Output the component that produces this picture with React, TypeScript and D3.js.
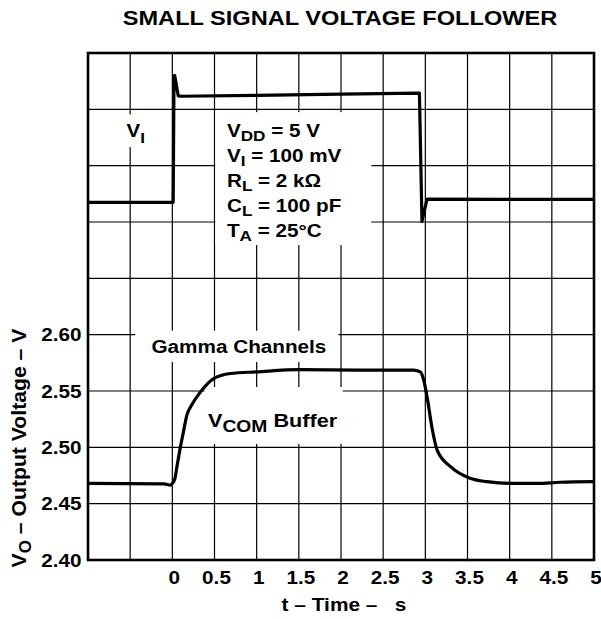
import React from "react";
import * as d3 from "d3";

// ---- data ----
const xTickValues = [0, 0.5, 1, 1.5, 2, 2.5, 3, 3.5, 4, 4.5, 5];
const xTickLabels = ["0", "0.5", "1", "1.5", "2", "2.5", "3", "3.5", "4", "4.5", "5"];
const yTickValues = [2.4, 2.45, 2.5, 2.55, 2.6];
const yTickLabels = ["2.40", "2.45", "2.50", "2.55", "2.60"];

// input step V_I (mV relative to its low level)
const inTime = [-1, 0.01, 0.02, 0.028, 0.07, 0.1, 1.0, 2.0, 2.92, 2.93, 2.96, 3.02, 5];
const inMilliVolts = [0, 0, 119, 119, 100, 99.6, 100.5, 101.5, 102.5, 102.5, -18, 2.9, 2.7];

// output V_O
const outTime = [-1, -0.1, -0.02, 0, 0.03, 0.055, 0.095, 0.127, 0.174, 0.233, 0.332, 0.49, 0.69, 1.0, 1.5, 2.2, 2.86, 2.94, 2.98, 3.02, 3.08, 3.14, 3.3, 3.53, 3.73, 4.0, 4.33, 4.6, 5.0];
const outVolts = [2.468, 2.4675, 2.4665, 2.468, 2.472, 2.483, 2.5, 2.512, 2.529, 2.538, 2.549, 2.561, 2.5655, 2.567, 2.569, 2.5686, 2.5686, 2.567, 2.56, 2.545, 2.517, 2.4976, 2.4828, 2.4725, 2.4695, 2.468, 2.468, 2.469, 2.4695];

const conditions: [string, string, string][] = [
  ["V", "DD", " = 5 V"],
  ["V", "I", " = 100 mV"],
  ["R", "L", " = 2 k\u03A9"],
  ["C", "L", " = 100 pF"],
  ["T", "A", " = 25\u00B0C"],
];

const FONT = "'Liberation Sans', Arial, Helvetica, sans-serif";

function SText(props: any) {
  const { x, y, sx = 1, rotate = 0, anchor = "start", size = 17, children } = props;
  return (
    <g transform={`translate(${x},${y}) rotate(${rotate}) scale(${sx},1)`}>
      <text
        textAnchor={anchor}
        fontSize={size}
        fontWeight="bold"
        fontFamily={FONT}
        fill="#000"
        style={{ whiteSpace: "pre" }}
      >
        {children}
      </text>
    </g>
  );
}

export default function App() {
  const W = 601;
  const H = 619;
  const x = d3.scaleLinear().domain([-1, 5]).range([88, 594]);
  const y = d3.scaleLinear().domain([2.4, 2.85]).range([560, 53]);
  const yIn = d3.scaleLinear().domain([0, 100]).range([y(2.7175), y(2.812)]);

  const gridX = d3.range(-0.5, 5, 0.5);
  const gridY = d3.range(1, 9).map((i) => 2.4 + i * 0.05);

  const inLine = d3
    .line<number>()
    .x((_, i) => x(inTime[i]))
    .y((d) => yIn(d));
  const outLine = d3
    .line<number>()
    .x((_, i) => x(outTime[i]))
    .y((d) => y(d))
    .curve(d3.curveMonotoneX);

  // white label backgrounds (data coordinates)
  const boxes = [
    { t0: -0.62, t1: -0.26, v0: 2.7955, v1: 2.7665 },
    { t0: 0.51, t1: 2.36, v0: 2.7975, v1: 2.6795 },
    { t0: -0.44, t1: 1.97, v0: 2.6035, v1: 2.5757 },
    { t0: 0.38, t1: 2.02, v0: 2.5535, v1: 2.503 },
  ];

  return (
    <svg
      width={W}
      height={H}
      style={{ position: "absolute", left: 0, top: 0, background: "#fff" }}
    >
      <rect x={0} y={0} width={W} height={H} fill="#fff" />
      <SText x={340} y={25} anchor="middle" size={20} sx={1.18}>
        SMALL SIGNAL VOLTAGE FOLLOWER
      </SText>

      {/* grid */}
      <g stroke="#000" strokeWidth={1.2}>
        {gridX.map((t) => (
          <line key={"gx" + t} x1={x(t)} x2={x(t)} y1={y(2.4)} y2={y(2.85)} />
        ))}
        {gridY.map((v) => (
          <line key={"gy" + v} x1={x(-1)} x2={x(5)} y1={y(v)} y2={y(v)} />
        ))}
      </g>

      {/* label backgrounds */}
      {boxes.map((b, i) => (
        <rect
          key={"b" + i}
          x={x(b.t0)}
          y={y(b.v0)}
          width={x(b.t1) - x(b.t0)}
          height={y(b.v1) - y(b.v0)}
          fill="#fff"
        />
      ))}

      {/* frame */}
      <rect
        x={x(-1)}
        y={y(2.85)}
        width={x(5) - x(-1)}
        height={y(2.4) - y(2.85)}
        fill="none"
        stroke="#000"
        strokeWidth={2.6}
      />

      {/* traces */}
      <path d={inLine(inMilliVolts) || ""} fill="none" stroke="#000" strokeWidth={3.2} strokeLinejoin="round" />
      <path d={outLine(outVolts) || ""} fill="none" stroke="#000" strokeWidth={3.2} strokeLinejoin="round" />

      {/* y ticks */}
      {yTickValues.map((v, i) => (
        <SText key={"yt" + i} x={81.5} y={y(v) + 6.5} anchor="end" size={18.5} sx={1.12}>
          {yTickLabels[i]}
        </SText>
      ))}
      {/* x ticks */}
      {xTickValues.map((t, i) => (
        <SText key={"xt" + i} x={x(t) + 2} y={584} anchor="middle" size={18.5} sx={1.12}>
          {xTickLabels[i]}
        </SText>
      ))}

      {/* axis titles */}
      <SText x={344} y={611} anchor="middle" size={18} sx={1.16}>
        {"t \u2013 Time \u2013   s"}
      </SText>
      <SText x={26} y={448} anchor="middle" size={20} sx={1.06} rotate={-90}>
        <tspan>V</tspan>
        <tspan fontSize={16} dy={5}>O</tspan>
        <tspan dy={-5}>{" \u2013 Output Voltage \u2013 V"}</tspan>
      </SText>

      {/* annotations */}
      <SText x={126.5} y={136.5} size={18} sx={1.14}>
        <tspan>V</tspan>
        <tspan fontSize={15} dy={6}>I</tspan>
      </SText>
      {conditions.map((c, i) => (
        <SText key={"c" + i} x={227} y={137 + i * 25} size={17.5} sx={1.18}>
          <tspan>{c[0]}</tspan>
          <tspan fontSize={14.5} dy={4}>{c[1]}</tspan>
          <tspan dy={-4}>{c[2]}</tspan>
        </SText>
      ))}
      <SText x={151.5} y={353} size={18.5} sx={1.12}>
        Gamma Channels
      </SText>
      <SText x={208} y={427} size={18.5} sx={1.17}>
        <tspan>V</tspan>
        <tspan fontSize={16.5} dy={5}>COM</tspan>
        <tspan dy={-5}>{" Buffer"}</tspan>
      </SText>
    </svg>
  );
}
